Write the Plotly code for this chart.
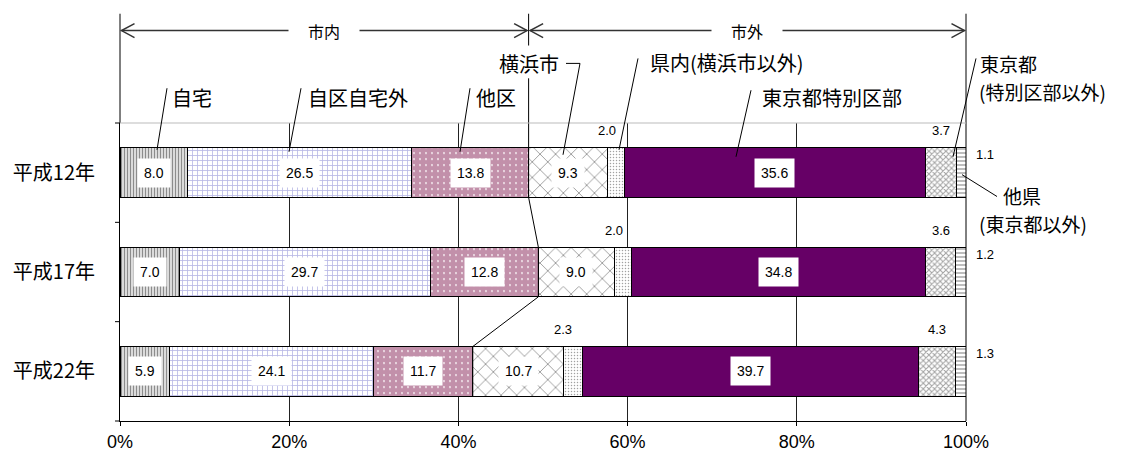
import numpy as np
import plotly.graph_objects as go

# ---- data -------------------------------------------------------------
years = ["平成12年", "平成17年", "平成22年"]
destinations = ["自宅", "自区自宅外", "他区", "横浜市", "県内(横浜市以外)",
                "東京都特別区部", "東京都(特別区部以外)", "他県(東京都以外)"]
jitaku = [8.0, 7.0, 5.9]            # 自宅
jiku_jitakugai = [26.5, 29.7, 24.1]  # 自区自宅外
taku = [13.8, 12.8, 11.7]           # 他区
yokohama = [9.3, 9.0, 10.7]         # 横浜市
kennai = [2.0, 2.0, 2.3]            # 県内(横浜市以外)
tokyo_ku = [35.6, 34.8, 39.7]       # 東京都特別区部
tokyo_other = [3.7, 3.6, 4.3]       # 東京都(特別区部以外)
taken = [1.1, 1.2, 1.3]             # 他県(東京都以外)
x_ticks = [0, 20, 40, 60, 80, 100]

series = [jitaku, jiku_jitakugai, taku, yokohama, kennai, tokyo_ku, tokyo_other, taken]

# ---- fill styles per destination -------------------------------------
styles = [
    dict(bg="white", fg="#1a1a1a", shape="|", size=3, solidity=0.55),
    dict(bg="white", fg="#7070cc", shape="+", size=5, solidity=0.3),
    dict(bg="white", fg="#862255", shape=".", size=6, solidity=0.85),
    dict(bg="white", fg="#333333", shape="x", size=11, solidity=0.16),
    dict(bg="white", fg="#444444", shape=".", size=3, solidity=0.2),
    dict(bg="#660066", fg="#660066", shape="", size=8, solidity=0.3),
    dict(bg="white", fg="#444444", shape="x", size=4, solidity=0.45),
    dict(bg="white", fg="#222222", shape="-", size=4, solidity=0.3),
]

vals = np.array(series)                 # (destination, year)
shares = vals / vals.sum(axis=0) * 100  # 100% stacked shares
cum_end = np.cumsum(shares, axis=0)
cum_start = cum_end - shares
ypos = list(range(len(years)))

NUM_FONT = "Liberation Sans, Arial, sans-serif"
JP_FONT = "Noto Sans CJK JP, sans-serif"

fig = go.Figure()
for name, vs, st in zip(destinations, series, styles):
    fig.add_trace(go.Bar(
        y=ypos, x=vs, name=name, orientation="h", width=0.5,
        marker=dict(
            color=st["bg"],
            line=dict(color="black", width=1),
            pattern=dict(shape=st["shape"], fgcolor=st["fg"], bgcolor=st["bg"],
                         size=st["size"], solidity=st["solidity"]),
        ),
        hoverinfo="skip",
    ))

# ---- pixel helpers for the decoration around the plot area ----------
L, R, T, B = 120, 966, 123, 423


def px(x):
    return (x - L) / (R - L)


def py(y):
    return (B - y) / (B - T)


def bar_edge(i, d):
    # paper y of a bar edge (d=-0.25 top, +0.25 bottom) on the reversed axis
    return 1 - (i + 0.5 + d) / len(years)


shapes = []
annotations = []


def line(x0, y0, x1, y1, color="black", width=1):
    shapes.append(dict(type="line", xref="paper", yref="paper",
                       x0=x0, y0=y0, x1=x1, y1=y1,
                       line=dict(color=color, width=width)))


def path(points, color="black", width=1):
    d = "M " + " L ".join(f"{x},{y}" for x, y in points)
    shapes.append(dict(type="path", xref="paper", yref="paper", path=d,
                       line=dict(color=color, width=width)))


# in-bar value labels
for k in [0, 1, 2, 3, 5]:
    for i in ypos:
        annotations.append(dict(
            x=cum_start[k, i] + shares[k, i] / 2, y=i, xref="x", yref="y",
            xanchor="center", yanchor="middle",
            text=f"{vals[k, i]:.1f}", showarrow=False, bgcolor="white",
            borderpad=6, font=dict(family=NUM_FONT, size=14, color="black")))

# small segments labelled outside the bar
for i in ypos:
    annotations.append(dict(
        x=cum_start[4, i], y=i, xref="x", yref="y", yshift=42,
        xanchor="center", yanchor="middle",
        text=f"{vals[4, i]:.1f}", showarrow=False,
        font=dict(family=NUM_FONT, size=13, color="black")))
    annotations.append(dict(
        x=cum_start[6, i] + shares[6, i] / 2, y=i, xref="x", yref="y", yshift=42,
        xanchor="center", yanchor="middle",
        text=f"{vals[6, i]:.1f}", showarrow=False,
        font=dict(family=NUM_FONT, size=13, color="black")))
    annotations.append(dict(
        x=100, y=i, xref="x", yref="y", xshift=19, yshift=18,
        xanchor="center", yanchor="middle",
        text=f"{vals[7, i]:.1f}", showarrow=False,
        font=dict(family=NUM_FONT, size=13, color="black")))

# city boundary (市内 / 市外) per year
city_edge = cum_end[2] / 100
path([(city_edge[0], py(78)),
      (city_edge[0], bar_edge(0, 0.25)),
      (city_edge[1], bar_edge(1, -0.25)),
      (city_edge[1], bar_edge(1, 0.25)),
      (city_edge[2], bar_edge(2, -0.25)),
      (city_edge[2], bar_edge(2, 0.25))])

# 市内 / 市外 brackets
line(0, py(13), 0, py(T))
line(1, py(13), 1, py(B))
line(city_edge[0], py(13), city_edge[0], py(45))
ARW_Y = 30
ax_w, ax_h = 13 / (R - L), 7 / (B - T)
for x0, x1, label in [(0, city_edge[0], "市内"), (city_edge[0], 1, "市外")]:
    lx0 = x0 + 1.5 / (R - L)
    lx1 = x1 - 1.5 / (R - L)
    line(lx0, py(ARW_Y), lx1, py(ARW_Y), color="#333333", width=1.5)
    path([(lx0 + ax_w, py(ARW_Y) + ax_h), (lx0, py(ARW_Y)), (lx0 + ax_w, py(ARW_Y) - ax_h)],
         color="#333333", width=1.5)
    path([(lx1 - ax_w, py(ARW_Y) + ax_h), (lx1, py(ARW_Y)), (lx1 - ax_w, py(ARW_Y) - ax_h)],
         color="#333333", width=1.5)
    annotations.append(dict(
        x=(x0 + x1) / 2, y=py(ARW_Y), xref="paper", yref="paper", text=label,
        xanchor="center", yanchor="middle",
        showarrow=False, bgcolor="white", width=68,
        font=dict(family=JP_FONT, size=16, color="black")))

# plot frame and category separators
line(0, 1, 1, 1, color="#bbbbbb")
for b in [0, 1 / 3, 2 / 3, 1]:
    line(-5 / (R - L), b, 0, b)

# category names with leader lines
labels = [
    ("自宅", 192, 97, 20, [(167, 88), (157, 150)]),
    ("自区自宅外", 358, 97, 20, [(301, 88), (289, 152)]),
    ("他区", 496, 97, 20, [(470, 88), (460, 152)]),
    ("横浜市", 529, 63, 20, [(566, 63), (580, 63), (563, 155)]),
    ("県内(横浜市以外)", 727, 62, 20, [(638, 58), (619, 150)]),
    ("東京都特別区部", 832, 97, 20, [(751, 90), (736, 157)]),
]
for text, x, y, size, lead in labels:
    annotations.append(dict(
        x=px(x), y=py(y), xref="paper", yref="paper", text=text,
        xanchor="center", yanchor="middle", showarrow=False,
        font=dict(family=JP_FONT, size=size, color="black")))
    path([(px(a), py(b)) for a, b in lead])

# two-line labels at the right edge
side_labels = [
    ("東京都", 978, 63), ("(特別区部以外)", 977, 91),
    ("他県", 1001, 196), ("(東京都以外)", 977, 224),
]
for text, x, y in side_labels:
    annotations.append(dict(
        x=px(x), y=py(y), xref="paper", yref="paper", text=text,
        xanchor="left", yanchor="middle", showarrow=False,
        font=dict(family=JP_FONT, size=19, color="black")))
path([(px(976), py(58)), (px(953), py(157))])
path([(px(962), py(175)), (px(997), py(197))])

fig.update_layout(
    width=1131, height=464,
    margin=dict(l=L, r=1131 - R, t=T, b=464 - B),
    paper_bgcolor="white", plot_bgcolor="white",
    barmode="stack", barnorm="percent",
    showlegend=False,
    shapes=shapes, annotations=annotations,
    xaxis=dict(
        range=[0, 100], tickvals=x_ticks, ticktext=[f"{t}%" for t in x_ticks],
        showgrid=True, gridcolor="#222222", gridwidth=1, zeroline=False,
        showline=True, linecolor="black", linewidth=1,
        ticks="outside", ticklen=4, tickcolor="black",
        tickfont=dict(family=NUM_FONT, size=18, color="black"),
    ),
    yaxis=dict(
        range=[len(years) - 0.5, -0.5], tickvals=ypos, ticktext=years,
        showgrid=False, zeroline=False,
        showline=True, linecolor="black", linewidth=1,
        ticks="", ticklabelstandoff=20,
        tickfont=dict(family=JP_FONT, size=20, color="black"),
    ),
)

fig.write_html("out.html")
